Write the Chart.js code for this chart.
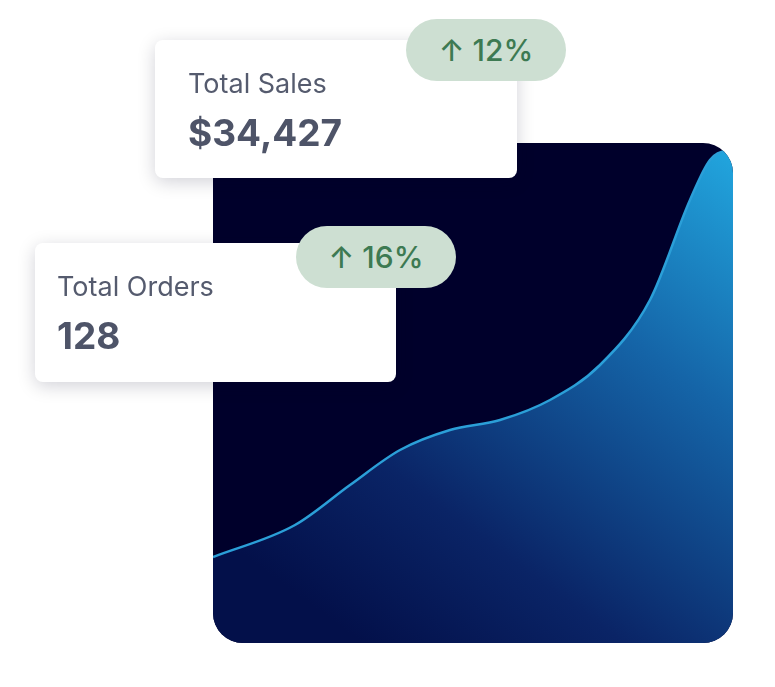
<!DOCTYPE html>
<html>
<head>
<meta charset="utf-8">
<script src="https://cdn.jsdelivr.net/npm/chart.js@4"></script>
<style>
  body { margin:0; width:775px; height:687px; background:#fff; position:relative; font-family:Inter, "Noto Sans", sans-serif; overflow:hidden; }
  #panel { position:absolute; left:213px; top:143px; width:520px; height:500px; border-radius:30px; overflow:hidden; background:#00002b; }
  .card { position:absolute; background:#fff; border-radius:8px; box-shadow:0 4px 18px rgba(0,0,40,0.18); }
  .card .lbl { position:absolute; left:33px; font-size:27px; color:#555b6e; }
  .card .val { position:absolute; left:33px; font-size:37px; font-weight:700; color:#4e5468; }
  .badge { position:absolute; width:160px; height:62px; border-radius:31px; background:#cddfd2; color:#3d7a52; font-size:30px; font-weight:500; display:flex; align-items:center; justify-content:center; }
</style>
</head>
<body>
<div id="panel"><canvas id="myChart" width="520" height="500"></canvas></div>

<div class="card" style="left:155px;top:40px;width:362px;height:138px;">
  <div class="lbl" style="top:27px">Total Sales</div>
  <div class="val" style="top:70px">$34,427</div>
</div>
<div class="badge" style="left:406px;top:19px;">↑ 12%</div>

<div class="card" style="left:35px;top:243px;width:361px;height:139px;">
  <div class="lbl" style="top:27px;left:22px">Total Orders</div>
  <div class="val" style="top:70px;left:22px">128</div>
</div>
<div class="badge" style="left:296px;top:226px;">↑ 16%</div>

<script>
// growth curve
var xs = [0, 82, 137, 187, 237, 287, 337, 387, 437, 477, 497, 520];
var ys = [86, 118, 158, 193, 213, 223, 243, 278, 343, 443, 483, 495];

var points = xs.map(function (x, i) { return { x: x, y: ys[i] }; });

var ctx = document.getElementById('myChart').getContext('2d');
var myChart = new Chart(ctx, {
    type: 'line',
    data: {
        datasets: [{
            data: points,
            borderColor: '#2b9fd8',
            borderWidth: 2.5,
            pointRadius: 0,
            tension: 0.4,
            cubicInterpolationMode: 'monotone',
            fill: 'start',
            backgroundColor: function (c) {
                var a = c.chart.chartArea;
                if (!a) return '#0a2a6a';
                var g = c.chart.ctx.createLinearGradient(a.right, a.top, a.left + 150, a.bottom);
                g.addColorStop(0, '#22a8e0');
                g.addColorStop(0.35, '#1565a8');
                g.addColorStop(0.75, '#0a2466');
                g.addColorStop(1, '#03104a');
                return g;
            }
        }]
    },
    options: {
        responsive: false,
        animation: false,
        layout: { padding: 0 },
        plugins: { legend: { display: false }, tooltip: { enabled: false } },
        scales: {
            x: { type: 'linear', min: 0, max: 520, display: false },
            y: { min: 0, max: 500, display: false }
        }
    }
});
</script>
</body>
</html>
